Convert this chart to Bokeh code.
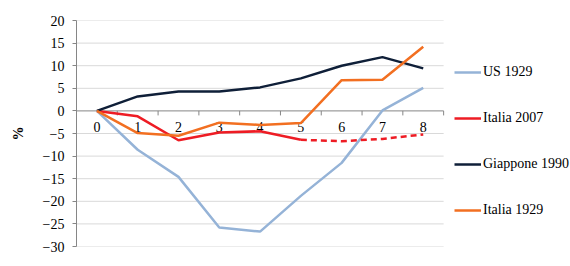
from bokeh.plotting import figure
from bokeh.models import Range1d, FixedTicker, Legend, LegendItem
from bokeh.core.properties import value
from bokeh.embed import file_html
from bokeh.resources import INLINE

years = [0, 1, 2, 3, 4, 5, 6, 7, 8]
x_labels = ["0", "1", "2", "3", "4", "5", "6", "7", "8"]
us_1929 = [0, -8.6, -14.6, -25.8, -26.7, -18.8, -11.5, 0.1, 5.1]
italia_2007 = [0, -1.2, -6.5, -4.8, -4.5, -6.4]
italia_2007_x = [0, 1, 2, 3, 4, 5]
italia_2007_proj = [-6.4, -6.7, -6.2, -5.2]
italia_2007_proj_x = [5, 6, 7, 8]
giappone_1990 = [0, 3.2, 4.3, 4.3, 5.2, 7.2, 10.0, 11.9, 9.4]
italia_1929 = [0, -4.9, -5.5, -2.6, -3.1, -2.7, 6.8, 6.9, 14.2]
y_ticks = [-30, -25, -20, -15, -10, -5, 0, 5, 10, 15, 20]
grid_values = [-30, -25, -20, -15, -10, -5, 5, 10, 15, 20]
boundaries = [0.5, 1.5, 2.5, 3.5, 4.5, 5.5, 6.5, 7.5, 8.5]

FONT = "Liberation Serif"
C_US = "#95B3D7"
C_IT07 = "#EE1C24"
C_JP = "#0F1F38"
C_IT29 = "#F26F21"

# frame spans the whole width to the right; the data area is -0.5..8.5
p = figure(width=570, height=266, output_backend="svg", toolbar_location=None,
           x_range=Range1d(-0.5, 11.61), y_range=Range1d(-30, 20),
           min_border_left=76, min_border_right=0, min_border_top=20, min_border_bottom=20)
p.outline_line_color = None
p.background_fill_color = "white"
p.border_fill_color = "white"

p.xaxis.visible = False
p.xgrid.visible = False
p.ygrid.visible = False

ya = p.yaxis[0]
ya.ticker = FixedTicker(ticks=y_ticks)
ya.axis_line_color = "#868686"
ya.major_tick_line_color = "#868686"
ya.major_tick_out = 4
ya.major_tick_in = 0
ya.minor_tick_line_color = None
ya.major_label_standoff = 8
ya.major_label_text_font = FONT
ya.major_label_text_font_size = "14px"
ya.major_label_text_color = "#000000"
ya.axis_label = "%"
ya.axis_label_text_font = FONT
ya.axis_label_text_font_size = "14px"
ya.axis_label_text_font_style = "bold"
ya.axis_label_text_color = "#000000"
ya.axis_label_standoff = 14

# horizontal grid lines over the data area
p.segment(x0=[-0.5] * len(grid_values), y0=grid_values, x1=[8.5] * len(grid_values), y1=grid_values,
          line_color="#D9D9D9", line_width=1)

# x axis drawn at y = 0
p.segment(x0=[-0.5], y0=[0], x1=[8.5], y1=[0], line_color="#868686", line_width=1)
p.segment(x0=boundaries, y0=[0] * len(boundaries), x1=boundaries, y1=[-1.0] * len(boundaries),
          line_color="#868686", line_width=1)
p.text(x=years, y=[0] * len(years), text=x_labels, text_font=value(FONT),
       text_font_size="14px", text_align="center", text_baseline="middle",
       y_offset=16, text_color="#000000")

r_us = p.line(years, us_1929, line_color=C_US, line_width=2.5)
r_it07 = p.line(italia_2007_x, italia_2007, line_color=C_IT07, line_width=2.5)
p.line(italia_2007_proj_x, italia_2007_proj, line_color=C_IT07, line_width=2.5, line_dash="6 4")
r_jp = p.line(years, giappone_1990, line_color=C_JP, line_width=2.5)
r_it29 = p.line(years, italia_1929, line_color=C_IT29, line_width=2.5)

legend = Legend(items=[
    LegendItem(label="US 1929", renderers=[r_us]),
    LegendItem(label="Italia 2007", renderers=[r_it07]),
    LegendItem(label="Giappone 1990", renderers=[r_jp]),
    LegendItem(label="Italia 1929", renderers=[r_it29]),
], location=(378, 26), orientation="vertical")
legend.padding = 0
legend.margin = 0
legend.border_line_color = None
legend.background_fill_alpha = 0
legend.glyph_width = 27
legend.glyph_height = 20
legend.label_height = 20
legend.spacing = 26
legend.label_standoff = 2
legend.label_text_font = FONT
legend.label_text_font_size = "14px"
legend.label_text_color = "#000000"
p.add_layout(legend, "center")

open("out.html", "w").write(file_html(p, INLINE))
